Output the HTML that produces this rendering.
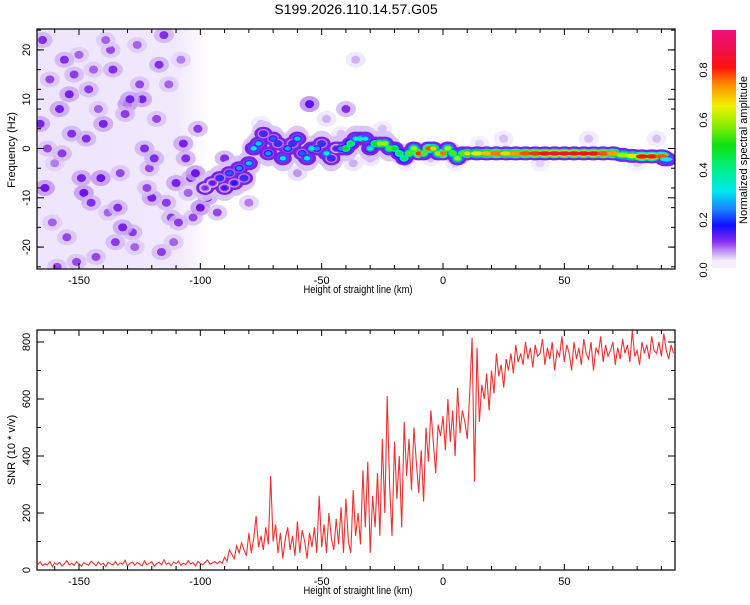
<!DOCTYPE html>
<html><head><meta charset="utf-8">
<style>
body{margin:0;background:#fff;font-family:"Liberation Sans",sans-serif;}
svg text{font-family:"Liberation Sans",sans-serif;}
</style></head>
<body>
<svg id="c" width="750" height="600" xmlns="http://www.w3.org/2000/svg">
<defs>
<linearGradient id="cb" x1="0" y1="1" x2="0" y2="0">
<stop offset="0" stop-color="#efe6fc"/><stop offset="0.03" stop-color="#c8a6f2"/>
<stop offset="0.08" stop-color="#8a2cf0"/><stop offset="0.15" stop-color="#1010ff"/>
<stop offset="0.22" stop-color="#1a80ff"/><stop offset="0.3" stop-color="#00e8f0"/>
<stop offset="0.4" stop-color="#00f080"/><stop offset="0.5" stop-color="#10e010"/>
<stop offset="0.6" stop-color="#a0f000"/><stop offset="0.67" stop-color="#f0f000"/>
<stop offset="0.76" stop-color="#ff9000"/><stop offset="0.84" stop-color="#ff1010"/>
<stop offset="0.92" stop-color="#f01050"/><stop offset="1" stop-color="#f01080"/>
</linearGradient>
<linearGradient id="bgfade" x1="0" y1="0" x2="1" y2="0">
<stop offset="0" stop-color="#efe5fc"/><stop offset="0.8" stop-color="#f1e8fc"/><stop offset="1" stop-color="#ffffff"/>
</linearGradient>
<clipPath id="clipTop"><rect x="37" y="29" width="638" height="240"/></clipPath>
<clipPath id="clipBot"><rect x="37" y="330" width="638" height="240"/></clipPath>
</defs>
<text x="356" y="14" font-size="14" text-anchor="middle">S199.2026.110.14.57.G05</text>
<g id="topg" clip-path="url(#clipTop)"></g>
<g id="botg" clip-path="url(#clipBot)"></g>
<g id="axes"></g>
<rect x="712" y="30" width="24" height="230" fill="url(#cb)"/>
<rect x="712" y="260" width="24" height="8" fill="#f4eefc"/>
<text transform="translate(747,150) rotate(-90)" font-size="11" text-anchor="middle">Normalized spectral amplitude</text>
</svg>
<script>
const snrStart = -167;
const snrValues = [20,28,15,22,18,30,12,25,19,27,14,22,33,18,24,16,29,21,13,26,20,17,31,23,15,28,19,24,12,27,22,18,30,16,25,20,34,14,23,28,17,26,21,15,32,19,24,29,13,22,27,18,36,20,25,15,28,22,31,17,24,19,33,21,26,14,30,23,18,27,35,20,25,29,22,31,24,
45,30,70,55,40,85,60,95,70,50,
130,60,110,190,80,120,70,150,90,330,
100,160,60,130,40,110,150,70,120,50,
170,60,140,100,40,130,80,150,60,260,
80,160,60,200,110,70,180,90,220,60,
250,100,60,280,120,200,90,350,150,380,
60,260,150,340,120,460,200,610,300,120,
450,250,400,150,520,330,460,280,500,380,
270,420,240,500,380,560,450,340,510,470,
540,420,600,450,560,400,640,480,560,520,
460,620,815,310,780,520,650,600,690,560,
700,620,760,680,720,640,740,700,760,690,
790,730,760,720,800,740,780,710,790,750,
760,810,720,780,740,800,700,770,750,820,
730,790,760,700,800,740,780,720,810,760,
740,800,700,780,760,820,730,790,750,770,
800,720,780,740,810,760,790,730,840,750,
770,720,800,760,790,740,820,770,760,800,
750,830,770,740,790,760];
const ridgeX = [-98,-95,-92,-90,-88,-86,-84,-82,-80,-78,-76,-74,-72,-70,-68,-66,-64,-62,-60,-58,-56,-54,-52,-50,-48,-46,-44,-42,-40,-38,-36,-34,-32,-30,-28,-26,-24,-22,-20,-18,-16,-14,-12,-10,-8,-6,-4,-2,0,2,4,6,8,10,14,18,22,26,30,34,38,42,46,50,54,58,62,66,70,74,78,82,86,90,92];
const ridgeF = [-8,-7,-6,-8,-5,-7,-4,-6,-3,0,1,3,-1,2,1,-2,0,1,2,-1,-2,0,0,1,-1,-2,0,0,0,1,2,2,2,0,1,1,1,0,0,-1,-2,-1,0,-1,-1,0,0,-1,-1,0,-1,-2,-1,-1,-1,-1,-1,-1,-1,-1,-1,-1,-1,-1,-1,-1,-1,-1,-1,-1.3,-1.5,-1.6,-1.6,-1.6,-2.2];
const ridgeA = [0.12,0.14,0.2,0.16,0.22,0.18,0.25,0.2,0.28,0.3,0.28,0.2,0.25,0.22,0.2,0.3,0.26,0.2,0.28,0.22,0.3,0.35,0.25,0.2,0.32,0.2,0.15,0.25,0.5,0.45,0.3,0.35,0.3,0.35,0.5,0.6,0.6,0.55,0.5,0.45,0.42,0.55,0.6,0.82,0.55,0.8,0.7,0.6,0.78,0.62,0.55,0.6,0.55,0.7,0.65,0.72,0.78,0.7,0.75,0.8,0.82,0.85,0.88,0.88,0.86,0.85,0.85,0.8,0.75,0.6,0.65,0.85,0.88,0.8,0.3];
const noiseX = [-165,-162,-160,-158,-155,-153,-150,-148,-146,-143,-140,-138,-136,-133,-130,-128,-126,-123,-120,-118,-116,-113,-110,-108,-106,-103,-101,-164,-161,-157,-154,-151,-147,-144,-141,-137,-134,-131,-127,-124,-121,-117,-114,-111,-107,-104,-100,-166,-159,-152,-145,-139,-132,-125,-119,-112,-105,-163,-156,-149,-142,-135,-129,-122,-115,-109,-102,-97,-93,-90,-85,-80,-75,-70,-60,-55,-48,-42,-37,-30,-25,-15,-5,5,15,25,40,60,80,88,-36,-40,-55];
const noiseF = [22,14,-3,8,-18,3,19,-9,12,-22,5,-13,16,-5,9,-17,21,0,-10,6,-21,13,-7,18,-2,-14,4,-8,-15,-1,11,-23,2,16,-6,20,-12,7,-20,10,-4,17,-11,-19,1,-6,-12,5,-24,15,-11,22,-16,13,-2,-14,-9,0,18,-6,8,-19,10,-8,23,-15,-5,-10,-13,-2,-8,-11,5,3,-5,9,6,3,-3,-2,4,-3,-2,-3,1,2,-3,2,-3,2,18,8,9];
const noiseA = [0.12,0.1,0.08,0.13,0.1,0.12,0.09,0.14,0.11,0.1,0.13,0.09,0.12,0.1,0.14,0.11,0.09,0.12,0.13,0.1,0.11,0.09,0.13,0.08,0.12,0.1,0.11,0.14,0.09,0.11,0.13,0.1,0.12,0.09,0.14,0.1,0.12,0.11,0.09,0.13,0.1,0.12,0.11,0.09,0.13,0.12,0.14,0.13,0.1,0.11,0.12,0.09,0.13,0.1,0.12,0.11,0.09,0.1,0.12,0.13,0.09,0.11,0.13,0.1,0.12,0.11,0.14,0.13,0.1,0.12,0.06,0.08,0.05,0.06,0.07,0.05,0.06,0.05,0.06,0.06,0.05,0.04,0.05,0.05,0.04,0.05,0.04,0.05,0.04,0.05,0.06,0.12,0.15];
const xTicks = [-150,-100,-50,0,50];
const fTicks = [20,10,0,-10,-20];
const snrTicks = [0,200,400,600,800];
const cbTicks = [0.0,0.2,0.4,0.6,0.8];

const NS='http://www.w3.org/2000/svg';
const X0=37,X1=675,XMIN=-167.3,XMAX=95.6;
const sx=v=>X0+(v-XMIN)/(XMAX-XMIN)*(X1-X0);
const fy=f=>148.5-f*4.93;
const by=s=>570-s*0.285;
const cy=a=>270-a*250;
const stops=[[0,[255,255,255]],[0.03,[236,226,251]],[0.06,[206,176,244]],[0.1,[150,70,232]],[0.14,[110,20,235]],[0.18,[40,20,255]],[0.24,[26,128,255]],[0.3,[0,232,240]],[0.42,[0,240,100]],[0.5,[16,224,16]],[0.6,[160,240,0]],[0.67,[240,240,0]],[0.76,[255,144,0]],[0.84,[255,16,16]],[0.95,[240,16,100]]];
function cmap(a){if(a<=0)return 'rgb(255,255,255)';for(let i=1;i<stops.length;i++){if(a<=stops[i][0]){const t=(a-stops[i-1][0])/(stops[i][0]-stops[i-1][0]);const c=stops[i-1][1].map((v,k)=>Math.round(v+(stops[i][1][k]-v)*t));return `rgb(${c})`;}}return 'rgb(240,16,100)';}
function mk(tag,attrs,parent){const e=document.createElementNS(NS,tag);for(const k in attrs)e.setAttribute(k,attrs[k]);parent.appendChild(e);return e;}
const gTop=document.getElementById('topg'),gBot=document.getElementById('botg'),axes=document.getElementById('axes');

const bg=mk('rect',{x:sx(XMIN),y:29,width:sx(-96)-sx(XMIN),height:240,fill:'url(#bgfade)'},gTop);


const nN=Math.min(noiseX.length,noiseF.length,noiseA.length);
for(let i=0;i<nN;i++){
  const a=noiseA[i];
  const h=mk('ellipse',{cx:sx(noiseX[i]),cy:fy(noiseF[i]),rx:10,ry:8,fill:cmap(a*0.5),opacity:0.8},gTop);
  
  
  const e=mk('ellipse',{cx:sx(noiseX[i]),cy:fy(noiseF[i]),rx:4.5,ry:4,fill:cmap(a)},gTop);
  
  
}
const nR=Math.min(ridgeX.length,ridgeF.length,ridgeA.length);
// faint outer glow
for(let i=0;i<nR;i++){
  const g=mk('ellipse',{cx:sx(ridgeX[i]),cy:fy(ridgeF[i]),rx:12,ry:ridgeX[i]<-20?13:7,fill:cmap(0.05),opacity:0.9},gTop);
  
  
}
const layers=[[0.12,9,7],[0.4,6,4.8],[0.7,4.5,3.4],[1,3.2,2.2]];
layers.forEach(([f,rx,ry],li)=>{
  for(let i=0;i<nR;i++){
    const a=li===0?0.13:ridgeA[i]*f;
    const e=mk('ellipse',{cx:sx(ridgeX[i]),cy:fy(ridgeF[i]),rx:rx+(ridgeX[i]>10?3:0),ry:ry,fill:cmap(Math.max(a,0.05))},gTop);
    
    
  }
});
let d='';snrValues.forEach((v,i)=>{d+=(i?'L':'M')+sx(snrStart+i).toFixed(1)+','+by(v).toFixed(1);});
const ln=mk('path',{d:d,fill:'none',stroke:'#f03030','stroke-width':1.1},gBot);



function frame(y0,y1,name){
  const r=mk('rect',{x:X0,y:y0,width:X1-X0,height:y1-y0,fill:'none',stroke:'#000','stroke-width':1.2},axes);
  
  
  for(let k=-160;k<=90;k+=10){const x=sx(k),L=(k%50==0)?6:4;
    mk('line',{x1:x,y1:y1,x2:x,y2:y1-L,stroke:'#000'},axes);mk('line',{x1:x,y1:y0,x2:x,y2:y0+L,stroke:'#000'},axes);}
  xTicks.forEach(t=>{const tx=mk('text',{x:sx(t),y:y1+15,'font-size':11,'text-anchor':'middle'},axes);tx.textContent=t;
    
    });
  const xl=mk('text',{x:358,y:y1+24,'font-size':11,'text-anchor':'middle',transform:`translate(358,0) scale(0.85,1) translate(-358,0)`},axes);xl.textContent='Height of straight line (km)';
  
  
}
frame(29,269,'spectrogram-frame');frame(330,570,'snr-frame');
for(let f=-24;f<=24;f+=4){const y=fy(f);mk('line',{x1:X0,y1:y,x2:X0+4,y2:y,stroke:'#000'},axes);mk('line',{x1:X1,y1:y,x2:X1-4,y2:y,stroke:'#000'},axes);}
fTicks.forEach(t=>{const y=fy(t);mk('line',{x1:X0,y1:y,x2:X0+7,y2:y,stroke:'#000'},axes);mk('line',{x1:X1,y1:y,x2:X1-7,y2:y,stroke:'#000'},axes);
  const tx=mk('text',{transform:`translate(30,${y}) rotate(-90)`,'font-size':11,'text-anchor':'middle'},axes);tx.textContent=t;
  
  });
for(let s=0;s<=800;s+=100){const y=by(s),L=(s%200==0)?7:4;mk('line',{x1:X0,y1:y,x2:X0+L,y2:y,stroke:'#000'},axes);mk('line',{x1:X1,y1:y,x2:X1-L,y2:y,stroke:'#000'},axes);}
snrTicks.forEach(t=>{const tx=mk('text',{transform:`translate(30,${by(t)}) rotate(-90)`,'font-size':11,'text-anchor':'middle'},axes);tx.textContent=t;
  
  });
const yl1=mk('text',{transform:'translate(15,150) rotate(-90)','font-size':11,'text-anchor':'middle'},axes);yl1.textContent='Frequency (Hz)';


const yl2=mk('text',{transform:'translate(15,450) rotate(-90)','font-size':11,'text-anchor':'middle'},axes);yl2.textContent='SNR (10 * v/v)';


cbTicks.forEach(t=>{const tx=mk('text',{transform:`translate(707,${cy(t)}) rotate(-90)`,'font-size':11,'text-anchor':'middle'},axes);tx.textContent=t.toFixed(1);
  
  });
</script>
</body></html>
